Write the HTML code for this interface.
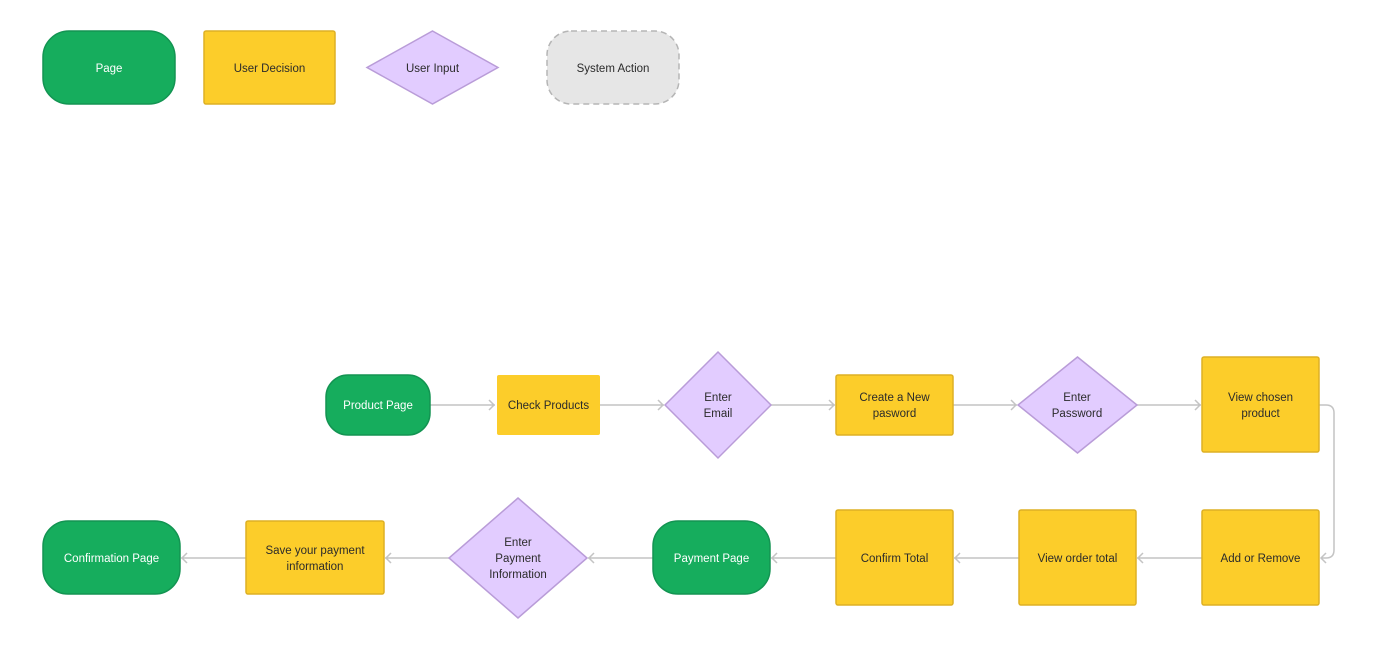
<!DOCTYPE html>
<html><head><meta charset="utf-8"><style>
html,body{margin:0;padding:0;background:#fff;}
svg{display:block;}
text{font-family:"Liberation Sans",sans-serif;font-size:11.5px;text-anchor:middle;fill:#2b2b2b;}
.w{fill:#fff;}
.pg{fill:#16ad5d;stroke:#139452;stroke-width:1.5;}
.yd{fill:#fccd2a;stroke:#ddb024;stroke-width:1.5;}
.ui{fill:#e2ccff;stroke:#b99cd8;stroke-width:1.5;}
.ln{stroke:#c4c4c4;stroke-width:1.5;fill:none;}
</style></head><body>
<svg width="1378" height="659" viewBox="0 0 1378 659">
<!-- legend -->
<rect class="pg" x="43" y="31" width="132" height="73" rx="26"/>
<text class="w" x="109" y="72">Page</text>
<rect class="yd" x="204" y="31" width="131" height="73" rx="2"/>
<text x="269.5" y="72">User Decision</text>
<polygon class="ui" points="432.5,31 498,67.5 432.5,104 367,67.5"/>
<text x="432.5" y="72">User Input</text>
<rect x="547" y="31" width="132" height="73" rx="24" fill="#e6e6e6" stroke="#b5b5b5" stroke-width="1.5" stroke-dasharray="6,4"/>
<text x="613" y="72">System Action</text>

<!-- connectors -->
<g class="ln">
<path d="M430 405H495M489 400l5 5-5 5"/>
<path d="M600 405H664M658 400l5 5-5 5"/>
<path d="M771 405H835M829 400l5 5-5 5"/>
<path d="M953 405H1017M1011 400l5 5-5 5"/>
<path d="M1137 405H1201M1195 400l5 5-5 5"/>
<path d="M1319 405H1326Q1334 405 1334 413V550Q1334 558 1326 558H1321M1326 553l-5 5 5 5"/>
<path d="M1202 558H1137M1143 553l-5 5 5 5"/>
<path d="M1019 558H954M960 553l-5 5 5 5"/>
<path d="M836 558H771M777 553l-5 5 5 5"/>
<path d="M653 558H588M594 553l-5 5 5 5"/>
<path d="M449 558H385M391 553l-5 5 5 5"/>
<path d="M246 558H181M187 553l-5 5 5 5"/>
</g>

<!-- row 1 -->
<rect class="pg" x="326" y="375" width="104" height="60" rx="22"/>
<text class="w" x="378" y="409">Product Page</text>
<rect x="497" y="375" width="103" height="60" rx="2" fill="#fccd2a"/>
<text x="548.5" y="409">Check Products</text>
<polygon class="ui" points="718,352 771,405 718,458 665,405"/>
<text x="718" y="401">Enter</text><text x="718" y="417">Email</text>
<rect class="yd" x="836" y="375" width="117" height="60" rx="2"/>
<text x="894.5" y="401">Create a New</text><text x="894.5" y="417">pasword</text>
<polygon class="ui" points="1077.5,357 1137,405 1077.5,453 1018,405"/>
<text x="1077" y="401">Enter</text><text x="1077" y="417">Password</text>
<rect class="yd" x="1202" y="357" width="117" height="95" rx="2"/>
<text x="1260.5" y="401">View chosen</text><text x="1260.5" y="417">product</text>

<!-- row 2 -->
<rect class="yd" x="1202" y="510" width="117" height="95" rx="2"/>
<text x="1260.5" y="562">Add or Remove</text>
<rect class="yd" x="1019" y="510" width="117" height="95" rx="2"/>
<text x="1077.5" y="562">View order total</text>
<rect class="yd" x="836" y="510" width="117" height="95" rx="2"/>
<text x="894.5" y="562">Confirm Total</text>
<rect class="pg" x="653" y="521" width="117" height="73" rx="25"/>
<text class="w" x="711.5" y="562">Payment Page</text>
<polygon class="ui" points="518,498 587,558 518,618 449,558"/>
<text x="518" y="546">Enter</text><text x="518" y="562">Payment</text><text x="518" y="578">Information</text>
<rect class="yd" x="246" y="521" width="138" height="73" rx="2"/>
<text x="315" y="554">Save your payment</text><text x="315" y="570">information</text>
<rect class="pg" x="43" y="521" width="137" height="73" rx="25"/>
<text class="w" x="111.5" y="562">Confirmation Page</text>
</svg>
</body></html>
